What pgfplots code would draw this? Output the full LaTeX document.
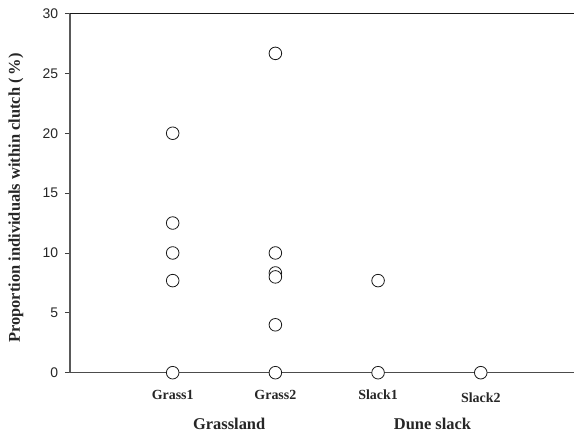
\documentclass[border=0pt]{standalone}
\usepackage{fontspec}
\setmainfont{Liberation Serif}
\setsansfont{Liberation Sans}
\usepackage{pgfplots}
\pgfplotsset{compat=1.18}
\begin{document}
\begin{tikzpicture}
\useasboundingbox (-70bp,-59.3bp) rectangle (504bp,359.2bp+13.5bp);
\begin{axis}[
  name=ax, at={(0,0)}, anchor=south west,
  scale only axis, width=504bp, height=359.2bp,
  xmin=0, xmax=4.908, ymin=0, ymax=30,
  axis line style={draw=none},
  xtick={1,2,3,4},
  xticklabels={Grass1,Grass2,Slack1,\raisebox{-2.5bp}[\height]{Slack2}},
  xtick style={draw=none},
  major tick length=5bp,
  ytick={0,5,...,30},
  tick align=outside,
  ytick pos=left,
  ytick style={draw=black!75, line width=0.8bp},
  /pgf/number format/assume math mode=true,
  yticklabel style={font=\sffamily\fontsize{14}{14}\selectfont, text=black!85, anchor=east, inner sep=0pt, xshift=-6.7bp},
  xticklabel style={font=\bfseries\fontsize{14}{14}\selectfont, text=black!85, anchor=north, inner sep=0pt, yshift=-12bp},
  clip=false,
]
\draw[black!65, line width=1.4bp] (rel axis cs:0,0) -- (rel axis cs:0,1);
\draw[black!70, line width=1bp] (rel axis cs:0,0) -- (rel axis cs:1,0);
\draw[black!90, line width=1bp] (rel axis cs:0,1) -- (rel axis cs:1,1);
\addplot[only marks, mark=*, mark size=6.3bp, mark options={fill=white, draw=black!90, line width=0.8bp}] table {
x y
1 20
1 12.5
1 10
1 7.69
1 0
2 26.67
2 10
2 8.33
2 8.0
2 4
2 0
3 7.69
3 0
4 0
};
\coordinate (g1) at (axis cs:1.55,0);
\coordinate (g2) at (axis cs:3.53,0);
\end{axis}
\node[rotate=90, anchor=center, font=\bfseries\fontsize{16.5}{17}\selectfont, text=black!85] at ([xshift=-54bp,yshift=-5bp]ax.west) {Proportion individuals within clutch (\,\%)};
\node[anchor=base, font=\bfseries\fontsize{16.5}{17}\selectfont, text=black!85] at ([yshift=-57bp]g1) {Grassland};
\node[anchor=base, font=\bfseries\fontsize{16.5}{17}\selectfont, text=black!85] at ([yshift=-57bp]g2) {Dune slack};
\end{tikzpicture}
\end{document}
